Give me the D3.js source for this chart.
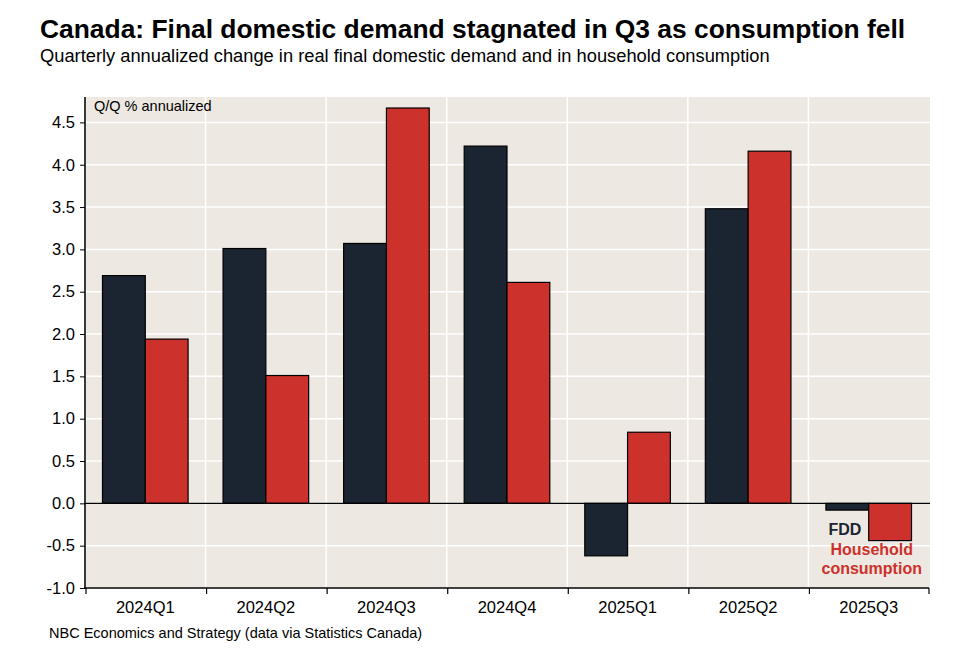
<!DOCTYPE html>
<html>
<head>
<meta charset="utf-8">
<script src="https://cdn.jsdelivr.net/npm/d3@7"></script>
<style>
  body { margin: 0; background: #fff; }
  svg { font-family: "Liberation Sans", Arial, sans-serif; }
</style>
</head>
<body>
<div id="canvas"></div>
<script>
var quarters = ["2024Q1", "2024Q2", "2024Q3", "2024Q4", "2025Q1", "2025Q2", "2025Q3"];
var fdd = [2.69, 3.01, 3.07, 4.22, -0.62, 3.48, -0.08];
var household = [1.94, 1.51, 4.67, 2.61, 0.84, 4.16, -0.44];
var yTicks = [-1.0, -0.5, 0.0, 0.5, 1.0, 1.5, 2.0, 2.5, 3.0, 3.5, 4.0, 4.5];
var seriesNames = ["fdd", "household"];

var w = 968, h = 662;
var pLeft = 85, pRight = 929, pTop = 97, pBottom = 588;
var colors = { fdd: "#1b2531", household: "#cd312b" };

var svg = d3.select("#canvas").append("svg")
    .attr("width", w).attr("height", h);

// titles
svg.append("text").attr("x", 40).attr("y", 38)
    .style("font-size", "26.4px").style("font-weight", "bold")
    .text("Canada: Final domestic demand stagnated in Q3 as consumption fell");
svg.append("text").attr("x", 40).attr("y", 62)
    .style("font-size", "18.3px")
    .text("Quarterly annualized change in real final domestic demand and in household consumption");

var x = d3.scaleBand().domain(quarters).range([pLeft, pRight]).paddingInner(0.29).paddingOuter(0.145);
var xOuter = d3.scaleBand().domain(quarters).range([pLeft, pRight]);
var inner = d3.scaleBand().domain(seriesNames).range([0, x.bandwidth()]);
var y = d3.scaleLinear().domain([-1.0, 4.8]).range([pBottom, pTop]);

// plot background
svg.append("rect").attr("x", pLeft - 1).attr("y", pTop)
    .attr("width", pRight - pLeft + 2).attr("height", pBottom - pTop)
    .attr("fill", "#ede8e2");

// grid
svg.append("g").selectAll("line").data(yTicks).join("line")
    .attr("x1", pLeft).attr("x2", pRight + 1)
    .attr("y1", function (d) { return y(d); }).attr("y2", function (d) { return y(d); })
    .attr("stroke", "#fff").attr("stroke-width", 1.5);
svg.append("g").selectAll("line").data(quarters.slice(1)).join("line")
    .attr("x1", function (d) { return xOuter(d); }).attr("x2", function (d) { return xOuter(d); })
    .attr("y1", pTop).attr("y2", pBottom)
    .attr("stroke", "#fff").attr("stroke-width", 1.5);

// bars
var rows = quarters.map(function (q, i) {
    return { q: q, fdd: fdd[i], household: household[i] };
});
var groups = svg.append("g").selectAll("g").data(rows).join("g")
    .attr("transform", function (d) { return "translate(" + x(d.q) + ",0)"; });
groups.selectAll("rect")
    .data(function (d) { return seriesNames.map(function (k) { return { key: k, value: d[k] }; }); })
    .join("rect")
    .attr("x", function (d) { return inner(d.key); })
    .attr("width", inner.bandwidth())
    .attr("y", function (d) { return y(Math.max(0, d.value)); })
    .attr("height", function (d) { return Math.abs(y(d.value) - y(0)); })
    .attr("fill", function (d) { return colors[d.key]; })
    .attr("stroke", "#000").attr("stroke-width", 1.2);

// zero line
svg.append("line").attr("x1", pLeft).attr("x2", pRight + 1)
    .attr("y1", y(0)).attr("y2", y(0))
    .attr("stroke", "#000").attr("stroke-width", 1.2);

// y axis
var yAxis = svg.append("g").attr("transform", "translate(" + pLeft + ",0)")
    .call(d3.axisLeft(y).tickValues(yTicks)
        .tickFormat(function (d) { return d.toFixed(1); })
        .tickSize(5).tickPadding(5));
yAxis.select(".domain").attr("d", "M0," + pTop + "V" + pBottom).attr("stroke-width", 1.5);
yAxis.selectAll("text").style("font-size", "16.5px").attr("font-family", null).attr("fill", "#000");

// x axis
var xAxis = svg.append("g").attr("transform", "translate(0," + pBottom + ")");
xAxis.append("line").attr("x1", pLeft - 1).attr("x2", pRight).attr("stroke", "#000").attr("stroke-width", 1.5);
xAxis.selectAll(".tk").data(quarters.concat(["end"])).join("line").attr("class", "tk")
    .attr("x1", function (d, i) { return i < quarters.length ? xOuter(d) + 1 : pRight; })
    .attr("x2", function (d, i) { return i < quarters.length ? xOuter(d) + 1 : pRight; })
    .attr("y1", 0).attr("y2", 6).attr("stroke", "#000").attr("stroke-width", 1.2);
xAxis.selectAll("text").data(quarters).join("text")
    .attr("x", function (d) { return xOuter(d) + xOuter.bandwidth() / 2; })
    .attr("y", 25).attr("text-anchor", "middle")
    .style("font-size", "16.5px").text(function (d) { return d; });

// annotations
svg.append("text").attr("x", 94).attr("y", 111).style("font-size", "14.5px")
    .text("Q/Q % annualized");
var last = quarters[quarters.length - 1];
svg.append("text").attr("x", x(last) + inner("fdd") + 19).attr("y", 535)
    .attr("text-anchor", "middle").style("font-size", "16px").style("font-weight", "bold")
    .attr("fill", colors.fdd).text("FDD");
var hh = svg.append("text").attr("text-anchor", "middle")
    .style("font-size", "16px").style("font-weight", "bold").attr("fill", colors.household);
hh.append("tspan").attr("x", x(last) + x.bandwidth() / 2 + 3).attr("y", 555).text("Household");
hh.append("tspan").attr("x", x(last) + x.bandwidth() / 2 + 3).attr("y", 574).text("consumption");

// source
svg.append("text").attr("x", 49).attr("y", 638).style("font-size", "14.5px")
    .text("NBC Economics and Strategy (data via Statistics Canada)");
</script>
</body>
</html>
